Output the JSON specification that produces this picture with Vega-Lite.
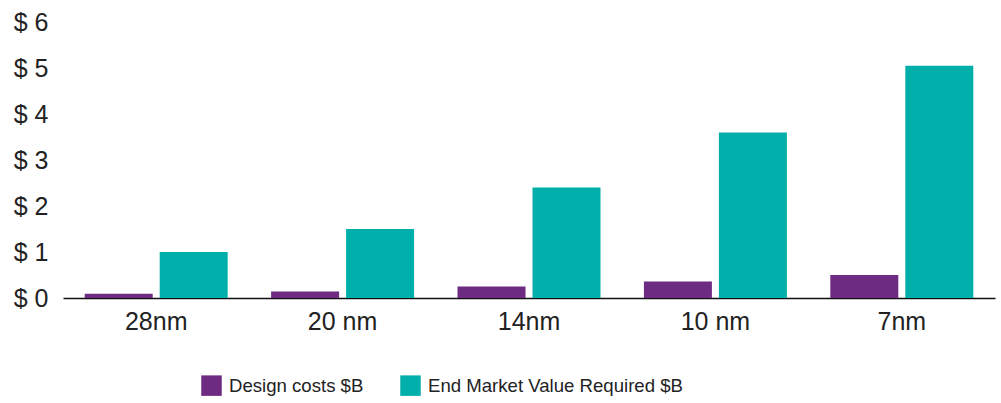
{
  "$schema": "https://vega.github.io/schema/vega-lite/v6.json",
  "autosize": {"type": "none"},
  "width": 932,
  "height": 276,
  "padding": {"left": 63, "top": 22, "right": 6, "bottom": 105},
  "background": "white",
  "data": {
    "values": [
      {"node": "28nm", "series": "Design costs $B", "value": 0.09},
      {"node": "28nm", "series": "End Market Value Required $B", "value": 1.0},
      {"node": "20 nm", "series": "Design costs $B", "value": 0.14},
      {"node": "20 nm", "series": "End Market Value Required $B", "value": 1.5},
      {"node": "14nm", "series": "Design costs $B", "value": 0.25},
      {"node": "14nm", "series": "End Market Value Required $B", "value": 2.4},
      {"node": "10 nm", "series": "Design costs $B", "value": 0.36},
      {"node": "10 nm", "series": "End Market Value Required $B", "value": 3.6},
      {"node": "7nm", "series": "Design costs $B", "value": 0.5},
      {"node": "7nm", "series": "End Market Value Required $B", "value": 5.05}
    ]
  },
  "config": {
    "view": {"stroke": null},
    "font": "Liberation Sans"
  },
  "mark": {"type": "bar"},
  "encoding": {
    "x": {
      "field": "node",
      "type": "nominal",
      "sort": null,
      "scale": {"paddingInner": 0.233, "paddingOuter": 0.1165},
      "axis": {
        "title": null,
        "labelAngle": 0,
        "labelFontSize": 25,
        "labelColor": "#222",
        "labelPadding": 11,
        "ticks": false,
        "domainColor": "#111",
        "domainWidth": 1.5
      }
    },
    "xOffset": {
      "field": "series",
      "type": "nominal",
      "scale": {"paddingInner": 0.0933, "paddingOuter": 0}
    },
    "y": {
      "field": "value",
      "type": "quantitative",
      "scale": {"domain": [0, 6], "nice": false},
      "axis": {
        "title": null,
        "values": [0, 1, 2, 3, 4, 5, 6],
        "labelExpr": "'$ ' + datum.value",
        "labelFontSize": 25,
        "labelColor": "#222",
        "labelPadding": 15,
        "ticks": false,
        "domain": false,
        "grid": false
      }
    },
    "color": {
      "field": "series",
      "type": "nominal",
      "scale": {
        "domain": ["Design costs $B", "End Market Value Required $B"],
        "range": ["#6E2B82", "#00AFA9"]
      },
      "legend": {
        "title": null,
        "orient": "none",
        "direction": "horizontal",
        "legendX": 138,
        "legendY": 353,
        "symbolType": "square",
        "symbolSize": 420,
        "symbolStrokeWidth": 0,
        "labelFontSize": 18.6,
        "labelLimit": 500,
        "labelColor": "#222",
        "labelOffset": 7,
        "columnPadding": 36
      }
    }
  }
}
